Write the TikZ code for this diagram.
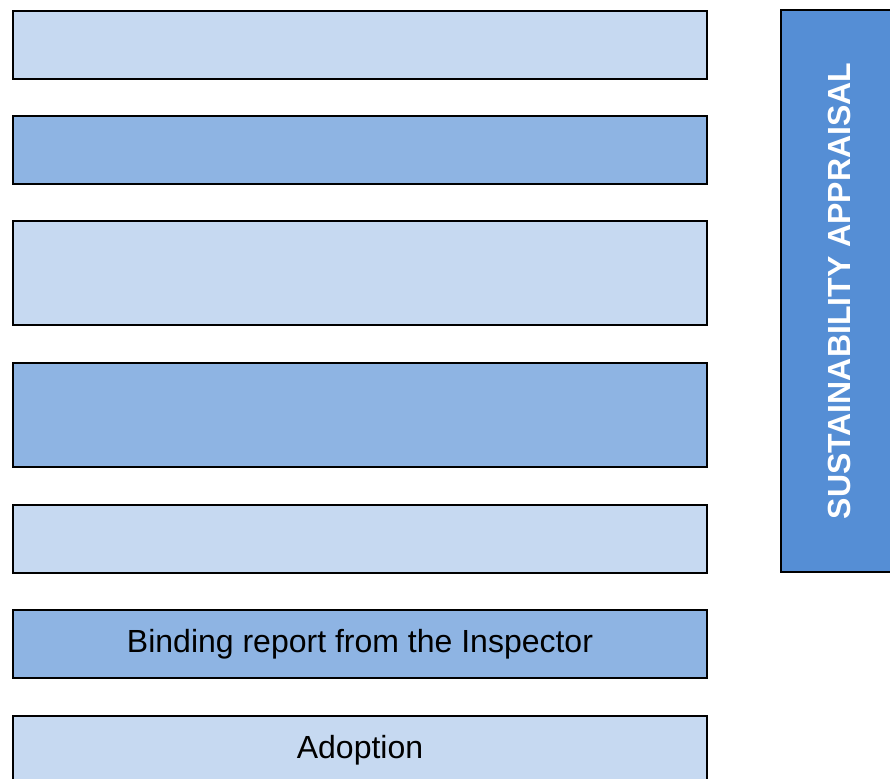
\documentclass[tikz,border=0pt]{standalone}
\usepackage{fontspec}
\setmainfont{Liberation Sans}
\definecolor{lightblue}{HTML}{C6D9F1}
\definecolor{midblue}{HTML}{8EB4E3}
\definecolor{darkblue}{HTML}{558ED5}
\begin{document}
\begin{tikzpicture}[x=1pt,y=-1pt,
  stage/.style={draw=black,line width=2pt,minimum width=694pt,anchor=north west,inner sep=0pt,font=\fontsize{32}{38}\selectfont},
  light/.style={stage,fill=lightblue},
  mid/.style={stage,fill=midblue},
  sa/.style={draw=black,line width=2pt,fill=darkblue,minimum width=562pt,minimum height=116pt,inner sep=0pt,rotate=90,text=white,font=\fontsize{32}{38}\selectfont\bfseries}]
\useasboundingbox (0,0) rectangle (890,778);
\begin{scope}
\clip (0,0) rectangle (890,778);
\node[light,minimum height=68pt] (s1) at (12,10) {};
\node[mid,minimum height=68pt] (s2) at (12,115) {};
\node[light,minimum height=104pt] (s3) at (12,220) {};
\node[mid,minimum height=104pt] (s4) at (12,362) {};
\node[light,minimum height=68pt] (s5) at (12,504) {};
\node[mid,minimum height=68pt] (s6) at (12,609) {Binding report from the Inspector};
\node[light,minimum height=68pt] (s7) at (12,715) {Adoption};
\node[sa] (sa) at (839,291) {SUSTAINABILITY APPRAISAL};
\end{scope}
\end{tikzpicture}
\end{document}
